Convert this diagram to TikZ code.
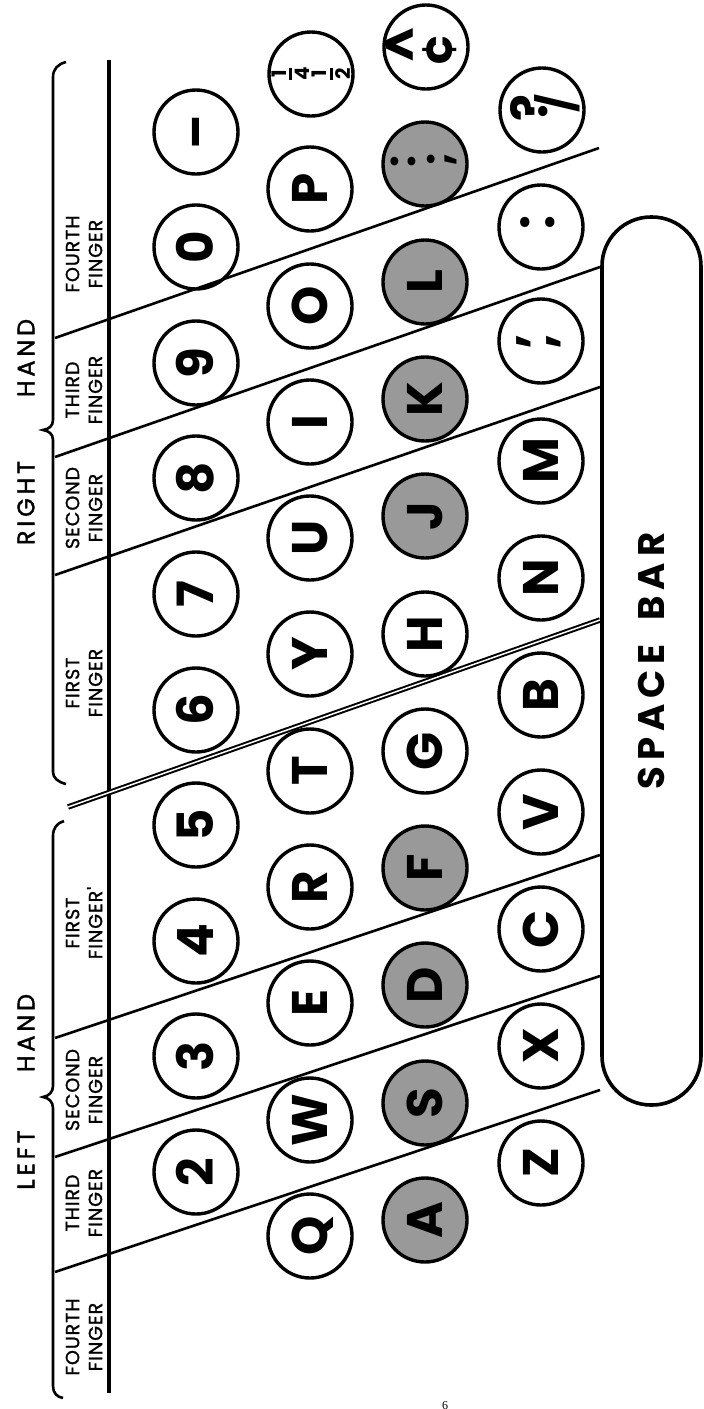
\documentclass[tikz,border=0pt]{standalone}
\usepackage{fontspec}
\setmainfont{Poppins}
\newfontfamily\hdrfont{Poppins}[LetterSpace=16,FakeBold=1.6]
\newfontfamily\lblfont{Poppins}[LetterSpace=5,FakeBold=1.2]
\newfontfamily\sbfont{Poppins}[LetterSpace=16]
\newfontfamily\pgfont{Liberation Serif}
\newcommand\keyfnt{\fontsize{50}{54}\selectfont\bfseries}
\newcommand\punctfnt{\fontsize{42}{46}\selectfont\bfseries}
\newcommand\slashfnt{\fontsize{40}{44}\selectfont\bfseries}
\newcommand\fracfnt{\fontsize{20}{22}\selectfont\bfseries}
\begin{document}
\begin{tikzpicture}[x=1pt,y=-1pt,
  keyc/.style={circle,draw,line width=3.4pt,minimum size=84pt,inner sep=0pt,rotate=90,font=\keyfnt,text height=35pt,text depth=0pt},
  homek/.style={keyc,fill=gray!80},
  blankkey/.style={circle,draw,line width=3.4pt,minimum size=84pt,inner sep=0pt},
  glyph/.style={rotate=90,inner sep=0pt,font=\keyfnt},
  pglyph/.style={rotate=90,inner sep=0pt,font=\punctfnt},
  fline/.style={line width=2.6pt},
  hdr/.style={rotate=90,inner sep=0pt,font=\hdrfont\fontsize{24}{26}\selectfont},
  flabel/.style={rotate=90,inner sep=0pt,align=center,font=\lblfont\fontsize{19}{23}\selectfont},
  spacebar/.style={draw,rectangle,rounded corners=49pt,line width=3.6pt,minimum width=888pt,minimum height=99pt,inner sep=0pt,rotate=90,font=\sbfont\fontsize{37}{40}\selectfont\bfseries}
]
\useasboundingbox (0,0) rectangle (704,1409);

% braces and header line
\draw[line width=2.6pt] (64,821) .. controls (57,823) and (53,828) .. (53,836) -- (53,1086)
  .. controls (53,1092) and (49,1096) .. (43,1097) .. controls (49,1098) and (53,1102) .. (53,1108)
  -- (53,1386) .. controls (53,1393) and (57,1397) .. (63,1398);
\draw[line width=2.6pt] (66,62) .. controls (58,64) and (53,69) .. (53,77) -- (53,420)
  .. controls (53,426) and (49,429) .. (43,430) .. controls (49,431) and (53,434) .. (53,440)
  -- (53,772) .. controls (53,778) and (58,782) .. (66,784);
\coordinate (vtop) at (109,60);
\coordinate (vbot) at (109,1393);
\draw[line width=3.2pt] (vtop) -- (vbot);

% finger separation lines
\coordinate (l1a) at (55,1272); \coordinate (l1b) at (600,1090);
\coordinate (l2a) at (55,1157); \coordinate (l2b) at (600,976);
\coordinate (l3a) at (55,1038); \coordinate (l3b) at (600,855);
\coordinate (l4a) at (68,807);  \coordinate (l4b) at (600,620);
\coordinate (r1a) at (55,575);  \coordinate (r1b) at (600,387);
\coordinate (r2a) at (55,457);  \coordinate (r2b) at (600,267);
\coordinate (r3a) at (55,338);  \coordinate (r3b) at (599,148);
\draw[fline] (l1a) -- (l1b);
\draw[fline] (l2a) -- (l2b);
\draw[fline] (l3a) -- (l3b);
\draw[line width=2pt,double=white,double distance=1.5pt] (l4a) -- (l4b);
\draw[fline] (r1a) -- (r1b);
\draw[fline] (r2a) -- (r2b);
\draw[fline] (r3a) -- (r3b);

% headers
\node[hdr] (lleft) at (26,1160) {LEFT};
\node[hdr] (lhand) at (26,1033) {HAND};
\node[hdr] (rright) at (26,503) {RIGHT};
\node[hdr] (rhand) at (26,358) {HAND};

\node[flabel] (f4l) at (84,1337) {FOURTH\\FINGER};
\node[flabel] (f3l) at (84,1203) {THIRD\\FINGER};
\node[flabel] (f2l) at (84,1090) {SECOND\\FINGER};
\node[flabel] (f1l) at (84,923) {FIRST\\FINGER'};
\node[flabel] (f1r) at (84,683) {FIRST\\FINGER};
\node[flabel] (f2r) at (84,508) {SECOND\\FINGER};
\node[flabel] (f3r) at (84,390) {THIRD\\FINGER};
\node[flabel] (f4r) at (84,254) {FOURTH\\FINGER};

% number row
\node[keyc] (k2) at (196,1172) {2};
\node[keyc] (k3) at (196,1056) {3};
\node[keyc] (k4) at (196,941) {4};
\node[keyc] (k5) at (196,825) {5};
\node[keyc] (k6) at (196,710) {6};
\node[keyc] (k7) at (196,594) {7};
\node[keyc] (k8) at (196,478) {8};
\node[keyc] (k9) at (196,363) {9};
\node[keyc] (k0) at (196,247) {0};
\node[keyc] (kdash) at (196,132) {–};

% top letter row
\node[keyc] (kq) at (310,1236) {Q};
\node[keyc] (kw) at (310,1120) {W};
\node[keyc] (ke) at (310,1003) {E};
\node[keyc] (kr) at (310,887) {R};
\node[keyc] (kt) at (310,771) {T};
\node[keyc] (ky) at (310,654) {Y};
\node[keyc] (ku) at (310,538) {U};
\node[keyc] (ki) at (310,422) {I};
\node[keyc] (ko) at (310,306) {O};
\node[keyc] (kp) at (310,189) {P};
\node[blankkey] (kfrac) at (311,74) {};
\node[rotate=90,inner sep=0pt,font=\fracfnt] (tfrac) at (kfrac) {\shortstack{1\\\rule{12pt}{2.8pt}\\4\\1\\\rule{12pt}{2.8pt}\\2}};

% home row
\node[homek] (ka) at (425,1220) {A};
\node[homek] (ks) at (425,1103) {S};
\node[homek] (kd) at (425,985) {D};
\node[homek] (kf) at (425,868) {F};
\node[keyc] (kg) at (425,751) {G};
\node[keyc] (kh) at (425,634) {H};
\node[homek] (kj) at (425,516) {J};
\node[homek] (kk) at (425,399) {K};
\node[homek] (kl) at (425,282) {L};
\node[blankkey,fill=gray!80] (ksemi) at (425,164) {};
\node[pglyph] (tcolon) at (403,162) {:};
\node[pglyph] (tsemi) at (442,159) {;};
\node[blankkey] (kcent) at (426,47) {};
\node[glyph] (tcaret) at (404,45) {\textasciicircum};
\node[glyph] (tcent) at (440,50) {¢};

% bottom row
\node[keyc] (kz) at (541,1163) {Z};
\node[keyc] (kx) at (541,1046) {X};
\node[keyc] (kc) at (541,929) {C};
\node[keyc] (kv) at (541,812) {V};
\node[keyc] (kb) at (541,695) {B};
\node[keyc] (kn) at (541,578) {N};
\node[keyc] (km) at (541,461) {M};
\node[blankkey] (kcomma) at (541,341) {};
\node[glyph] (tcomma1) at (524,341) {,};
\node[glyph] (tcomma2) at (554,341) {,};
\node[blankkey] (kperiod) at (541,227) {};
\node[glyph] (tper1) at (525,222) {.};
\node[glyph] (tper2) at (550,222) {.};
\node[blankkey] (kquest) at (542,110) {};
\node[glyph] (tquest) at (529,108) {?};
\node[rotate=90,inner sep=0pt,font=\slashfnt] (tslash) at (557,103) {/};

% space bar
\node[spacebar] (space) at (651.5,661) {SPACE\hspace{24pt}BAR};

% page number
\node[font=\pgfont\fontsize{12}{12}\selectfont,inner sep=0pt,anchor=north] (pgno) at (445,1401) {6};
\end{tikzpicture}
\end{document}
